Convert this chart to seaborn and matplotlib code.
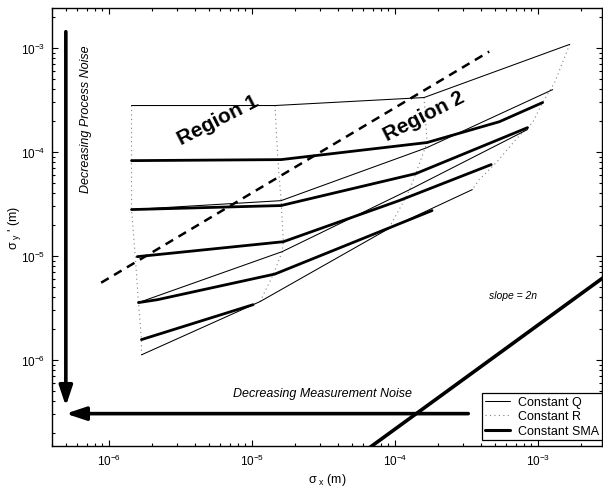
import numpy as np
import pandas as pd
import matplotlib
matplotlib.use('Agg')
import matplotlib.pyplot as plt
from matplotlib.lines import Line2D
from matplotlib.ticker import LogLocator, NullFormatter
import seaborn as sns

# ---- Constant Q curves (thin solid) : sigma_x, sigma_y' ----
q1_x = [1.44e-6, 1.45e-5, 1.60e-4, 1.67e-3]
q1_y = [2.79e-4, 2.79e-4, 3.33e-4, 1.08e-3]
q2_x = [1.44e-6, 1.60e-5, 1.68e-4, 1.27e-3]
q2_y = [2.79e-5, 3.40e-5, 1.10e-4, 3.97e-4]
q3_x = [1.61e-6, 1.63e-5, 1.27e-4, 8.47e-4]
q3_y = [3.56e-6, 1.10e-5, 4.34e-5, 1.64e-4]
q4_x = [1.69e-6, 1.14e-5, 9.06e-5, 3.48e-4]
q4_y = [1.12e-6, 3.64e-6, 1.83e-5, 4.34e-5]

# ---- Constant R curves (dotted) ----
r1_x = [1.44e-6, 1.44e-6, 1.44e-6, 1.53e-6, 1.61e-6, 1.69e-6, 1.69e-6]
r1_y = [2.79e-4, 8.24e-5, 2.79e-5, 9.84e-6, 3.56e-6, 1.57e-6, 1.12e-6]
r2_x = [1.45e-5, 1.52e-5, 1.60e-5, 1.66e-5, 1.63e-5, 1.41e-5, 1.14e-5]
r2_y = [2.79e-4, 8.43e-5, 3.40e-5, 1.37e-5, 1.10e-5, 6.61e-6, 3.64e-6]
r3_x = [1.60e-4, 1.68e-4, 1.40e-4, 1.27e-4, 1.10e-4, 9.06e-5]
r3_y = [3.33e-4, 1.23e-4, 6.18e-5, 4.34e-5, 2.98e-5, 1.83e-5]
r4_x = [1.67e-3, 1.31e-3, 1.08e-3, 9.18e-4, 8.47e-4, 7.20e-4, 5.12e-4, 3.89e-4, 3.48e-4]
r4_y = [1.08e-3, 4.64e-4, 2.98e-4, 1.91e-4, 1.71e-4, 1.37e-4, 7.89e-5, 5.42e-5, 4.34e-5]

# ---- Constant SMA curves (thick solid) ----
s1_x = [1.44e-6, 1.60e-5, 1.68e-4, 5.38e-4, 1.08e-3]
s1_y = [8.24e-5, 8.43e-5, 1.23e-4, 1.95e-4, 2.98e-4]
s2_x = [1.44e-6, 1.60e-5, 1.40e-4, 8.47e-4]
s2_y = [2.79e-5, 3.05e-5, 6.18e-5, 1.71e-4]
s3_x = [1.58e-6, 1.66e-5, 1.07e-4, 4.72e-4]
s3_y = [9.84e-6, 1.37e-5, 3.40e-5, 7.55e-5]
s4_x = [1.61e-6, 2.19e-6, 1.45e-5, 1.82e-4]
s4_y = [3.56e-6, 3.80e-6, 6.70e-6, 2.73e-5]
s5_x = [1.69e-6, 1.02e-5]
s5_y = [1.57e-6, 3.40e-6]

# ---- region boundary (dashed) and slope = 2n line ----
boundary_x = [8.83e-7, 4.57e-4]
boundary_y = [5.53e-6, 9.21e-4]
slope_x = [5.0e-5, 5.0e-3]
slope_y = [1.08e-7, 1.08e-5]

# ---- arrows ----
vert_arrow_x = [5.0e-7, 5.0e-7]
vert_arrow_y = [1.43e-3, 3.6e-7]
horiz_arrow_x = [3.26e-4, 5.0e-7]
horiz_arrow_y = [3.05e-7, 3.05e-7]

legend_labels = ['Constant Q', 'Constant R', 'Constant SMA']

sns.set_theme(style='ticks')
plt.rcParams['font.family'] = ['Liberation Sans', 'DejaVu Sans']
plt.rcParams['mathtext.fontset'] = 'custom'
plt.rcParams['mathtext.rm'] = 'Liberation Sans'
plt.rcParams['mathtext.it'] = 'Liberation Sans:italic'
plt.rcParams['mathtext.bf'] = 'Liberation Sans:bold'
plt.rcParams['mathtext.default'] = 'regular'
for key in ['text.color', 'axes.labelcolor', 'xtick.color', 'ytick.color', 'axes.edgecolor']:
    plt.rcParams[key] = 'black'

fig = plt.figure(figsize=(6.03, 4.89), dpi=100)
ax = fig.add_axes([0.0862, 0.0865, 0.9118, 0.8945])
ax.set_xscale('log')
ax.set_yscale('log')

dot_style = dict(color='#808080', lw=0.8, linestyle=(0, (1, 3)))
for xs, ys in [(r1_x, r1_y), (r2_x, r2_y), (r3_x, r3_y), (r4_x, r4_y)]:
    sns.lineplot(x=xs, y=ys, sort=False, estimator=None, ax=ax, **dot_style)
for xs, ys in [(q1_x, q1_y), (q2_x, q2_y), (q3_x, q3_y), (q4_x, q4_y)]:
    sns.lineplot(x=xs, y=ys, sort=False, estimator=None, ax=ax, color='black', lw=0.75)
for xs, ys in [(s1_x, s1_y), (s2_x, s2_y), (s3_x, s3_y), (s4_x, s4_y), (s5_x, s5_y)]:
    sns.lineplot(x=xs, y=ys, sort=False, estimator=None, ax=ax, color='black', lw=2.0)

sns.lineplot(x=boundary_x, y=boundary_y, sort=False, estimator=None, ax=ax,
             color='black', lw=1.8, linestyle=(0, (3.5, 2.5)))
sns.lineplot(x=slope_x, y=slope_y, sort=False, estimator=None, ax=ax,
             color='black', lw=2.6)

arrow_props = dict(arrowstyle='-|>,head_length=1.2,head_width=0.4', lw=2.6,
                   color='black', shrinkA=0, shrinkB=0, mutation_scale=10)
ax.annotate('', xy=(vert_arrow_x[1], vert_arrow_y[1]),
            xytext=(vert_arrow_x[0], vert_arrow_y[0]), arrowprops=arrow_props)
ax.annotate('', xy=(horiz_arrow_x[1], horiz_arrow_y[1]),
            xytext=(horiz_arrow_x[0], horiz_arrow_y[0]), arrowprops=arrow_props)

ax.set_xlim(4e-7, 2.8e-3)
ax.set_ylim(1.5e-7, 2.4e-3)

ax.text(6.9e-7, 2.13e-4, 'Decreasing Process Noise', rotation=90, style='italic',
        fontsize=9, ha='center', va='center')
ax.text(3.11e-5, 4.85e-7, 'Decreasing Measurement Noise', style='italic',
        fontsize=9, ha='center', va='center')
ax.text(6.75e-4, 4.25e-6, 'slope = 2n', style='italic', fontsize=7.5,
        ha='center', va='center')
ax.text(5.78e-6, 2.05e-4, 'Region 1', fontweight='bold', fontsize=15, rotation=27,
        ha='center', va='center', rotation_mode='anchor')
ax.text(1.6e-4, 2.23e-4, 'Region 2', fontweight='bold', fontsize=15, rotation=27,
        ha='center', va='center', rotation_mode='anchor')

ax.set_xlabel(r'$\sigma_{\ x}$ (m)', fontsize=9, labelpad=2)
ax.set_ylabel(r"$\sigma_{\ y}$ ' (m)", fontsize=9)
ax.yaxis.set_label_coords(-0.052, 0.5)

for axis in (ax.xaxis, ax.yaxis):
    axis.set_major_locator(LogLocator(base=10, numticks=20))
    axis.set_minor_locator(LogLocator(base=10, subs=np.arange(2, 10), numticks=20))
    axis.set_minor_formatter(NullFormatter())
ax.tick_params(which='both', direction='in', top=True, right=True, colors='black',
               labelsize=8.5, width=0.8)
ax.tick_params(which='major', length=4.5, pad=5)
ax.tick_params(which='minor', length=2.5)
for sp in ax.spines.values():
    sp.set_color('black')
    sp.set_linewidth(1.0)
    sp.set_visible(True)

handles = [Line2D([], [], color='black', lw=0.75),
           Line2D([], [], **dot_style),
           Line2D([], [], color='black', lw=2.2)]
leg = ax.legend(handles, legend_labels, loc='lower right', bbox_to_anchor=(1.0, 0.013),
                borderaxespad=0, fontsize=9, frameon=True, fancybox=False,
                edgecolor='black', framealpha=1, labelspacing=0.2, borderpad=0.25,
                handlelength=2.0, handletextpad=0.6)
leg.get_frame().set_linewidth(0.9)

fig.savefig('out.png', dpi=100, facecolor='white')
